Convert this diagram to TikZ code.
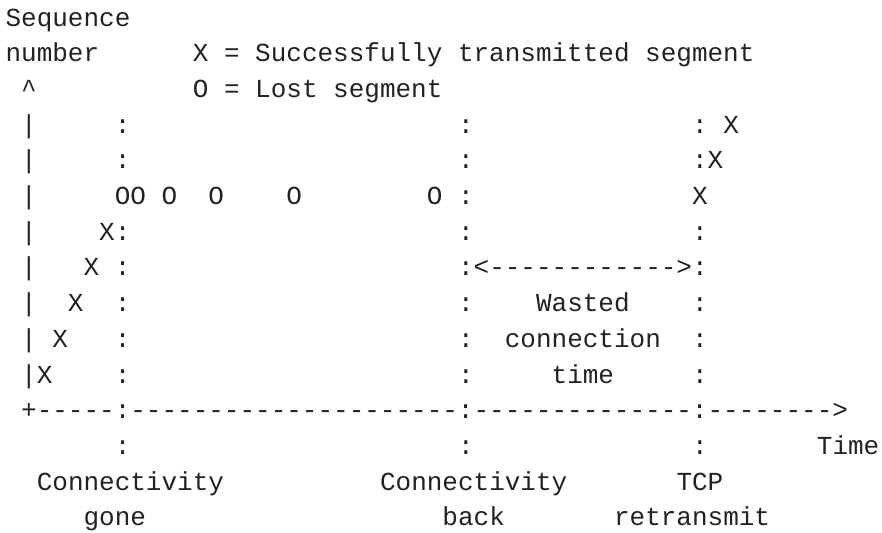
\documentclass[tikz,border=0pt]{standalone}
\usepackage{fontspec}
\setmonofont{Liberation Mono}
\definecolor{ink}{HTML}{222222}
% n blank character cells of the monospaced font
\newcommand\gapcols[1]{\kern#1\fontdimen2\font\relax}
\begin{document}
\begin{tikzpicture}[x=15.6pt, y=-35.7pt,
  row/.style={anchor=base west, inner sep=0pt, outer sep=0pt,
    text=ink, font=\ttfamily\fontsize{26}{26}\selectfont}]
\useasboundingbox (-0.359,0.2717) rectangle (56.18,15.2017);
% legend and vertical axis label
\node[row] (l1)  at (0,1)  {Sequence};
\node[row] (l2)  at (0,2)  {number\gapcols{6}X = Successfully transmitted segment};
\node[row] (l3)  at (1,3)  {\textasciicircum\gapcols{10}O = Lost segment};
% plot area
\node[row] (l4)  at (1,4)  {|\gapcols{5}:\gapcols{21}:\gapcols{14}: X};
\node[row] (l5)  at (1,5)  {|\gapcols{5}:\gapcols{21}:\gapcols{14}:X};
\node[row] (l6)  at (1,6)  {|\gapcols{5}OO O\gapcols{2}O\gapcols{4}O\gapcols{8}O :\gapcols{14}X};
\node[row] (l7)  at (1,7)  {|\gapcols{4}X:\gapcols{21}:\gapcols{14}:};
\node[row] (l8)  at (1,8)  {|\gapcols{3}X :\gapcols{21}:<------------>:};
\node[row] (l9)  at (1,9)  {|\gapcols{2}X\gapcols{2}:\gapcols{21}:\gapcols{4}Wasted\gapcols{4}:};
\node[row] (l10) at (1,10) {| X\gapcols{3}:\gapcols{21}:\gapcols{2}connection\gapcols{2}:};
\node[row] (l11) at (1,11) {|X\gapcols{4}:\gapcols{21}:\gapcols{5}time\gapcols{5}:};
% time axis
\node[row] (l12) at (1,12) {+-----:---------------------:--------------:-------->};
\node[row] (l13) at (7,13) {:\gapcols{21}:\gapcols{14}:\gapcols{7}Time};
% event labels
\node[row] (l14) at (2,14) {Connectivity\gapcols{10}Connectivity\gapcols{7}TCP};
\node[row] (l15) at (5,15) {gone\gapcols{19}back\gapcols{7}retransmit};
\end{tikzpicture}
\end{document}
